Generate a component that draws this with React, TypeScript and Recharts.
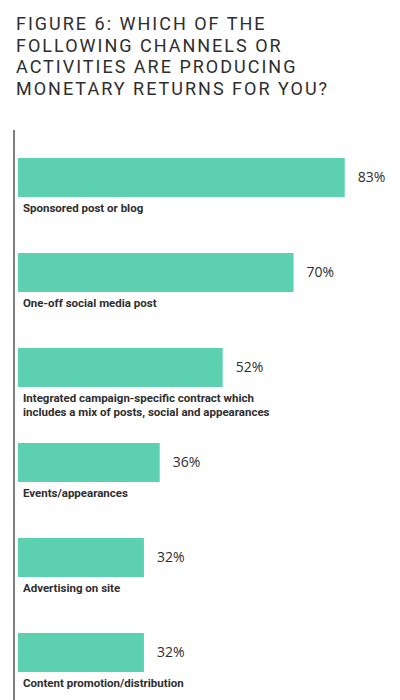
import React from 'react';
import { BarChart, Bar, XAxis, YAxis, LabelList } from 'recharts';

const categories = [
  'Sponsored post or blog',
  'One-off social media post',
  'Integrated campaign-specific contract which\nincludes a mix of posts, social and appearances',
  'Events/appearances',
  'Advertising on site',
  'Content promotion/distribution',
];
const percents = [83, 70, 52, 36, 32, 32];
const titleLines = [
  'FIGURE 6: WHICH OF THE',
  'FOLLOWING CHANNELS OR',
  'ACTIVITIES ARE PRODUCING',
  'MONETARY RETURNS FOR YOU?',
];

const data = categories.map((name, i) => ({ name, percent: percents[i] }));

const BAR = '#5dd0b0';
const TEXT = '#2e2e2e';

const ValueLabel = ({ x, y, width, height, value }: any) => (
  <text
    x={x + width + 13}
    y={y + height / 2 + 1}
    dominantBaseline="middle"
    fontSize={14}
    fontFamily="'Open Sans', sans-serif"
    fill={TEXT}
  >
    {value}%
  </text>
);

const NameLabel = ({ x, y, height, value }: any) => {
  const lines = String(value).split('\n');
  return (
    <text
      x={x + 5}
      y={y + height + 15}
      fontSize={11.5}
      fontWeight={700}
      fontFamily="Roboto, sans-serif"
      fill={TEXT}
    >
      {lines.map((l, i) => (
        <tspan key={i} x={x + 5} dy={i === 0 ? 0 : 13.5}>{l}</tspan>
      ))}
    </text>
  );
};

export default function App() {
  return (
    <div style={{ position: 'absolute', left: 0, top: 0, width: 400, height: 700, background: '#fff', overflow: 'hidden' }}>
      <div style={{
        position: 'absolute', left: 16, top: 13, color: TEXT,
        fontFamily: "Roboto, sans-serif", fontSize: 18, lineHeight: '21.5px',
        letterSpacing: '2px', fontWeight: 400,
      }}>
        {titleLines.map((t) => <div key={t}>{t}</div>)}
      </div>
      <BarChart
        width={400}
        height={700}
        data={data}
        layout="vertical"
        margin={{ top: 130, right: 8, left: 13, bottom: 0 }}
        barCategoryGap={28}
      >
        <XAxis type="number" domain={[-1, 95]} hide />
        <YAxis
          type="category"
          dataKey="name"
          width={1}
          tick={false}
          tickLine={false}
          axisLine={{ stroke: '#555', strokeWidth: 1.5 }}
        />
        <Bar dataKey="percent" fill={BAR} isAnimationActive={false}>
          <LabelList dataKey="percent" content={<ValueLabel />} />
          <LabelList dataKey="name" content={<NameLabel />} />
        </Bar>
      </BarChart>
    </div>
  );
}
